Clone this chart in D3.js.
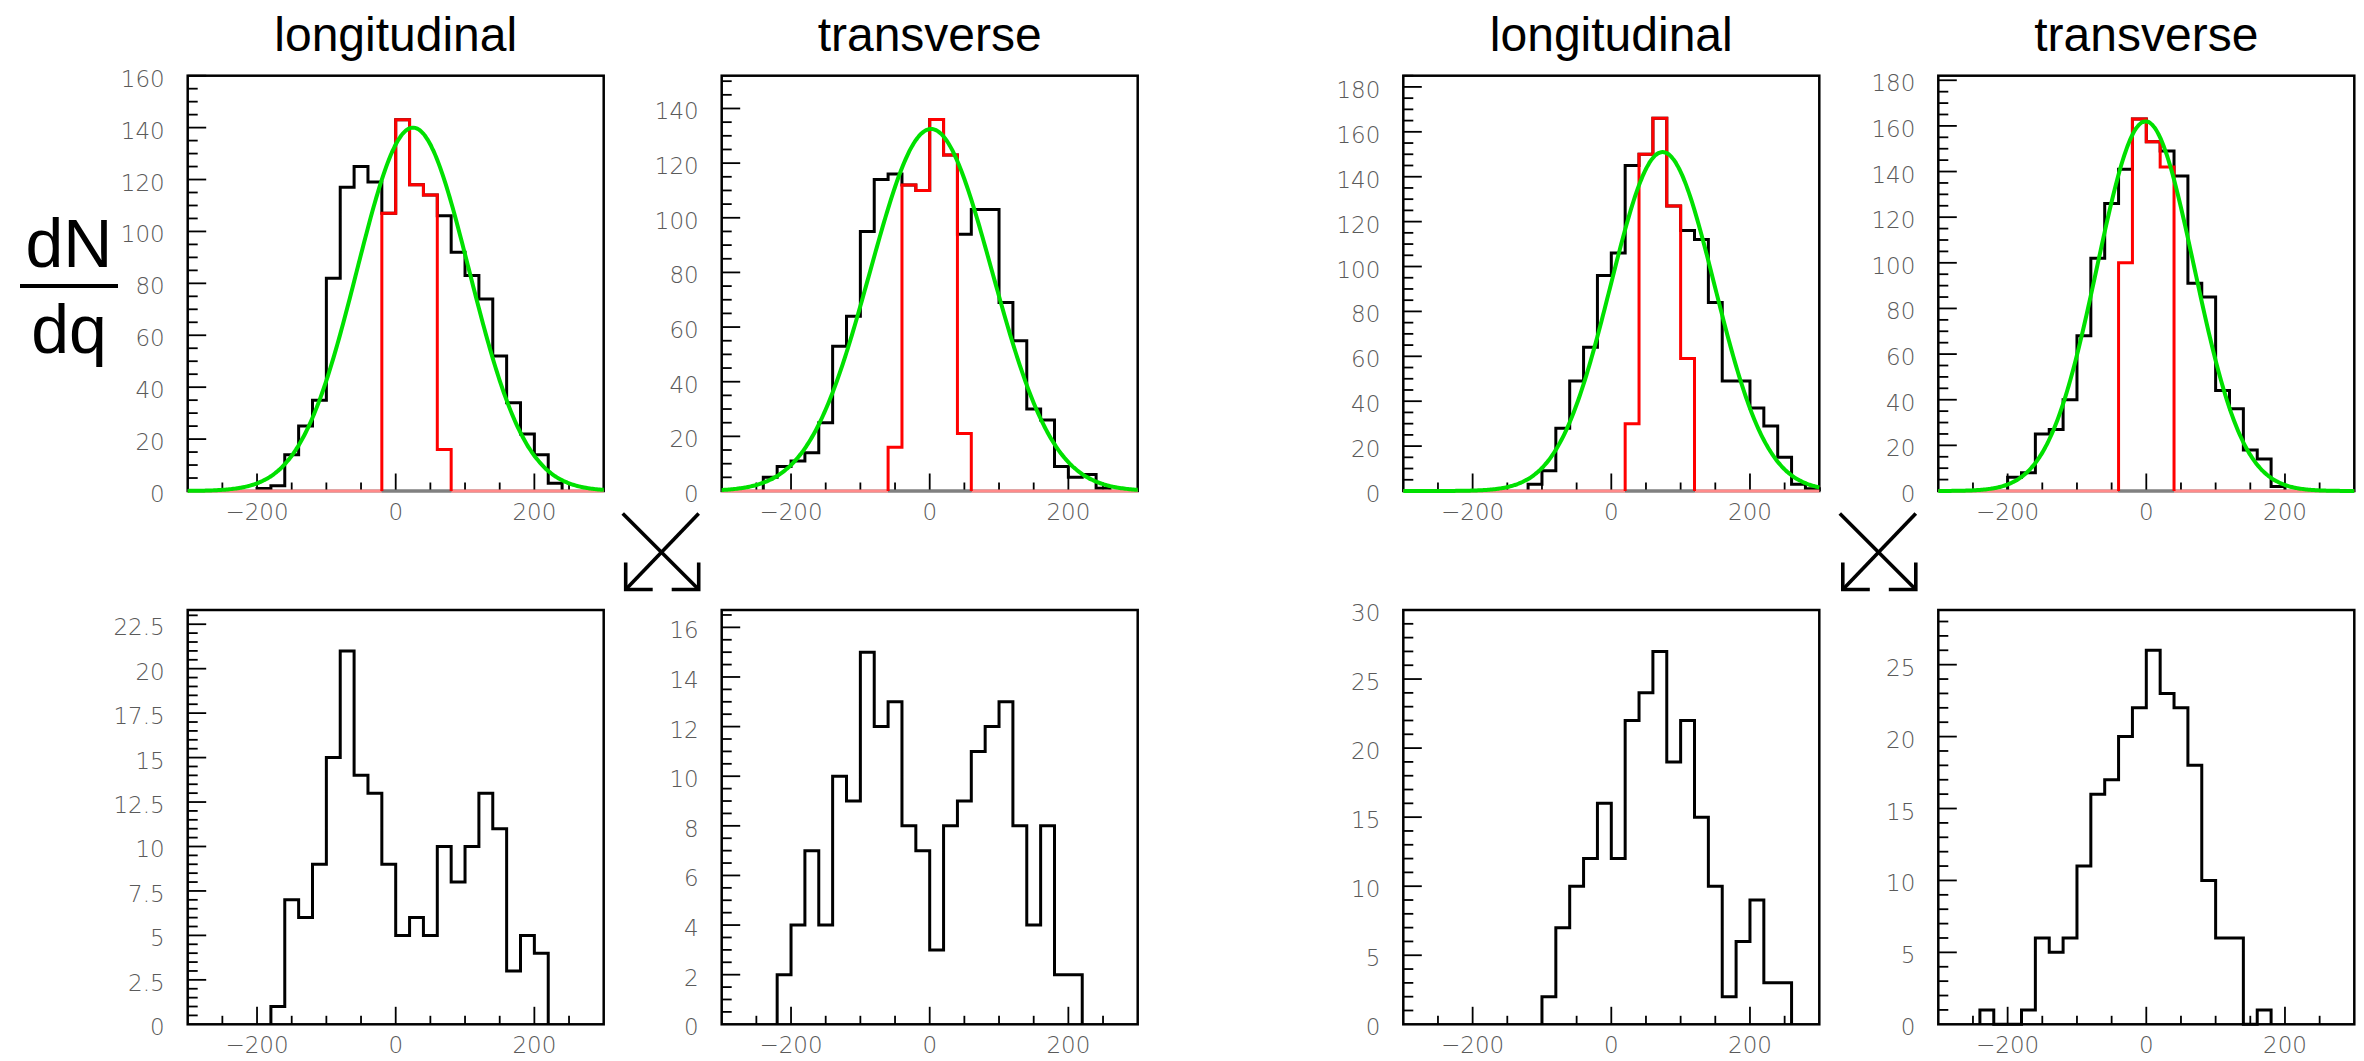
<!DOCTYPE html>
<html>
<head>
<meta charset="utf-8">
<script src="https://cdn.jsdelivr.net/npm/d3@7"></script>
<style>
  html, body { margin: 0; padding: 0; background: #ffffff; }
  svg { display: block; }
</style>
</head>
<body>
<svg id="chart" width="2364" height="1061"></svg>
<script>
// ---------------- DATA ----------------
// all histograms: 30 bins of width 20 covering q = -300 .. 300
const binStart = -300;
const binWidth = 20;
const xDomain = [-300, 300];
const xTickLabels = [-200, 0, 200];
const columnTitles = ["longitudinal", "transverse", "longitudinal", "transverse"];
const yAxisLabelTop = "dN";
const yAxisLabelBottom = "dq";

// top row, black histograms (all pairs)
const topBlack1 = [0,0,0,0,0,1,2,14,25,35,82,117,125,119,107,143,118,114,106,92,83,74,52,34,22,14,3,0,0,0];
const topBlack2 = [0,0,0,5,9,11,14,25,53,64,95,114,116,112,110,136,123,94,103,103,69,55,30,26,9,5,6,1,0,0];
const topBlack3 = [0,0,0,0,0,0,0,0,0,3,9,28,49,64,96,106,145,150,166,127,116,112,84,49,49,37,29,15,3,1];
const topBlack4 = [0,0,0,0,0,6,8,25,27,40,68,102,126,141,163,153,149,138,91,85,44,36,18,14,2,0,0,0,0,0];

// top row, red histograms (selected slice)
const topRed1 = [0,0,0,0,0,0,0,0,0,0,0,0,0,0,107,143,118,114,16,0,0,0,0,0,0,0,0,0,0,0];
const topRed2 = [0,0,0,0,0,0,0,0,0,0,0,0,16,112,110,136,123,21,0,0,0,0,0,0,0,0,0,0,0,0];
const topRed3 = [0,0,0,0,0,0,0,0,0,0,0,0,0,0,0,0,30,150,166,127,59,0,0,0,0,0,0,0,0,0];
const topRed4 = [0,0,0,0,0,0,0,0,0,0,0,0,0,100,163,153,142,0,0,0,0,0,0,0,0,0,0,0,0,0];

// green Gaussian fits of the top row (amplitude, mean, sigma)
const fitAmplitude = [140, 132.5, 151, 162];
const fitMean = [25, 2, 74, -1];
const fitSigma = [81, 88, 75, 70];

// bottom row histograms
const bottomBlack1 = [0,0,0,0,0,0,1,7,6,9,15,21,14,13,9,5,6,5,10,8,10,13,11,3,5,4,0,0,0,0];
const bottomBlack2 = [0,0,0,0,2,4,7,4,10,9,15,12,13,8,7,3,8,9,11,12,13,8,4,8,2,2,0,0,0,0];
const bottomBlack3 = [0,0,0,0,0,0,0,0,0,0,2,7,10,12,16,12,22,24,27,19,22,15,10,2,6,9,3,3,0,0];
const bottomBlack4 = [0,0,0,1,0,0,1,6,5,6,11,16,17,20,22,26,23,22,18,10,6,6,0,1,0,0,0,0,0,0];

// y axes
const topYMax = [160, 152, 185, 182];
const topYMajor = [20, 20, 20, 20];
const topYMinor = [5, 5, 5, 5];
const bottomYMax = [23.3, 16.7, 30, 28.8];
const bottomYMajor = [2.5, 2, 5, 5];
const bottomYMinor = [0.5, 0.5, 1, 1];

// ---------------- LAYOUT ----------------
const svg = d3.select("#chart");
const panelLefts = [187.7, 721.7, 1403.3, 1938.3];
const panelW = 416;
const rowsGeom = [{ top: 75.7, bottom: 491 }, { top: 610, bottom: 1024.3 }];
const labelFont = "'DejaVu Sans', sans-serif";
const labelColor = "#5a5a5a";

function fmtNum(v) {
  const s = String(+v.toFixed(2));
  return s.replace("-", "\u2212");
}

function stepPoints(vals) {
  let i0 = vals.findIndex(v => v > 0);
  let i1 = vals.length - 1 - vals.slice().reverse().findIndex(v => v > 0);
  const pts = [[binStart + i0 * binWidth, 0]];
  for (let i = i0; i <= i1; i++) {
    pts.push([binStart + i * binWidth, vals[i]]);
    pts.push([binStart + (i + 1) * binWidth, vals[i]]);
  }
  pts.push([binStart + (i1 + 1) * binWidth, 0]);
  return { pts, lo: binStart + i0 * binWidth, hi: binStart + (i1 + 1) * binWidth };
}

function drawPanel(col, row, blackVals, redVals, fitIdx, yMax, yMajor, yMinor) {
  const geo = rowsGeom[row];
  const left = panelLefts[col], right = left + panelW;
  const x = d3.scaleLinear().domain(xDomain).range([left, right]);
  const y = d3.scaleLinear().domain([0, yMax]).range([geo.bottom, geo.top]);
  const g = svg.append("g");

  // frame
  g.append("rect")
    .attr("x", left).attr("y", geo.top)
    .attr("width", panelW).attr("height", geo.bottom - geo.top)
    .attr("fill", "none").attr("stroke", "#000").attr("stroke-width", 2.5);

  // y ticks
  const nMinor = Math.floor(yMax / yMinor + 1e-9);
  for (let k = 1; k <= nMinor; k++) {
    const v = k * yMinor;
    const isMajor = Math.abs(v / yMajor - Math.round(v / yMajor)) < 1e-6;
    g.append("line")
      .attr("x1", left).attr("x2", left + (isMajor ? 18.5 : 10))
      .attr("y1", y(v)).attr("y2", y(v))
      .attr("stroke", "#000").attr("stroke-width", 1.8);
  }
  // y labels
  const nMajor = Math.floor(yMax / yMajor + 1e-9);
  for (let k = 0; k <= nMajor; k++) {
    const v = k * yMajor;
    g.append("text")
      .attr("x", left - 23).attr("y", y(v) + 11)
      .attr("text-anchor", "end")
      .attr("font-family", labelFont).attr("font-size", 23)
      .attr("font-weight", 200)
      .attr("fill", labelColor)
      .text(fmtNum(v));
  }
  // x ticks
  const xt = d3.range(-250, 251, 50);
  xt.forEach(v => {
    const isMajor = v % 200 === 0;
    g.append("line")
      .attr("x1", x(v)).attr("x2", x(v))
      .attr("y1", geo.bottom).attr("y2", geo.bottom - (isMajor ? 17.5 : 8.5))
      .attr("stroke", "#000").attr("stroke-width", 1.8);
  });
  xTickLabels.forEach(v => {
    g.append("text")
      .attr("x", x(v)).attr("y", geo.bottom + 29)
      .attr("text-anchor", "middle")
      .attr("font-family", labelFont).attr("font-size", 23)
      .attr("font-weight", 200)
      .attr("fill", labelColor)
      .text(fmtNum(v));
  });

  const line = d3.line().x(d => x(d[0])).y(d => y(d[1]));

  // black histogram
  const bk = stepPoints(blackVals);
  g.append("path").attr("d", line(bk.pts))
    .attr("fill", "none").attr("stroke", "#000").attr("stroke-width", 3)
    .attr("stroke-linejoin", "miter");

  if (redVals) {
    const rd = stepPoints(redVals);
    // baseline: pink outside the red bins, grey beneath them
    g.append("path").attr("d", line([[xDomain[0], 0], [rd.lo, 0]]))
      .attr("stroke", "#ff8a8a").attr("stroke-width", 3);
    g.append("path").attr("d", line([[rd.hi, 0], [xDomain[1], 0]]))
      .attr("stroke", "#ff8a8a").attr("stroke-width", 3);
    g.append("path").attr("d", line([[rd.lo, 0], [rd.hi, 0]]))
      .attr("stroke", "#808080").attr("stroke-width", 3);
    g.append("path").attr("d", line(rd.pts))
      .attr("fill", "none").attr("stroke", "#ff0000").attr("stroke-width", 3)
      .attr("stroke-linejoin", "miter");
  }
  if (fitIdx !== null) {
    const A = fitAmplitude[fitIdx], mu = fitMean[fitIdx], s = fitSigma[fitIdx];
    const qs = d3.range(xDomain[0], xDomain[1] + 0.001, 2);
    const fit = qs.map(q => [q, A * Math.exp(-((q - mu) * (q - mu)) / (2 * s * s))]);
    g.append("path").attr("d", line.curve(d3.curveBasis)(fit))
      .attr("fill", "none").attr("stroke", "#00e000").attr("stroke-width", 4);
  }
}

const topBlack = [topBlack1, topBlack2, topBlack3, topBlack4];
const topRed = [topRed1, topRed2, topRed3, topRed4];
const bottomBlack = [bottomBlack1, bottomBlack2, bottomBlack3, bottomBlack4];

for (let c = 0; c < 4; c++) {
  drawPanel(c, 0, topBlack[c], topRed[c], c, topYMax[c], topYMajor[c], topYMinor[c]);
  drawPanel(c, 1, bottomBlack[c], null, null, bottomYMax[c], bottomYMajor[c], bottomYMinor[c]);
}

// column titles
columnTitles.forEach((t, c) => {
  svg.append("text")
    .attr("x", panelLefts[c] + panelW / 2).attr("y", 51)
    .attr("text-anchor", "middle")
    .attr("font-family", "'Liberation Sans', Arial, sans-serif")
    .attr("font-size", 48)
    .attr("fill", "#000")
    .text(t);
});

// dN/dq label
const fracX = 69;
svg.append("text").attr("x", fracX).attr("y", 267)
  .attr("text-anchor", "middle")
  .attr("font-family", "'Liberation Sans', Arial, sans-serif")
  .attr("font-size", 68).attr("fill", "#000").text(yAxisLabelTop);
svg.append("line").attr("x1", 20).attr("x2", 118).attr("y1", 286).attr("y2", 286)
  .attr("stroke", "#000").attr("stroke-width", 4);
svg.append("text").attr("x", fracX).attr("y", 353)
  .attr("text-anchor", "middle")
  .attr("font-family", "'Liberation Sans', Arial, sans-serif")
  .attr("font-size", 68).attr("fill", "#000").text(yAxisLabelBottom);

// crossing arrows between the rows
function drawCross(cx, cy) {
  const s = 38, head = 27;
  const g = svg.append("g").attr("fill", "none").attr("stroke", "#000")
    .attr("stroke-width", 3.6).attr("stroke-linejoin", "miter");
  g.append("path").attr("d", `M${cx - s},${cy - s}L${cx + s},${cy + s}`);
  g.append("path").attr("d", `M${cx + s},${cy - s}L${cx - s + 3},${cy + s}`);
  g.append("path").attr("d", `M${cx - s + 3},${cy + s - head}L${cx - s + 3},${cy + s}L${cx - s + 3 + head},${cy + s}`);
  g.append("path").attr("d", `M${cx + s},${cy + s - head}L${cx + s},${cy + s}L${cx + s - head},${cy + s}`);
}
const midY = (rowsGeom[0].bottom + rowsGeom[1].top) / 2 + 1;
drawCross((panelLefts[0] + panelW + panelLefts[1]) / 2 - 2, midY);
drawCross((panelLefts[2] + panelW + panelLefts[3]) / 2 - 1, midY);
</script>
</body>
</html>
